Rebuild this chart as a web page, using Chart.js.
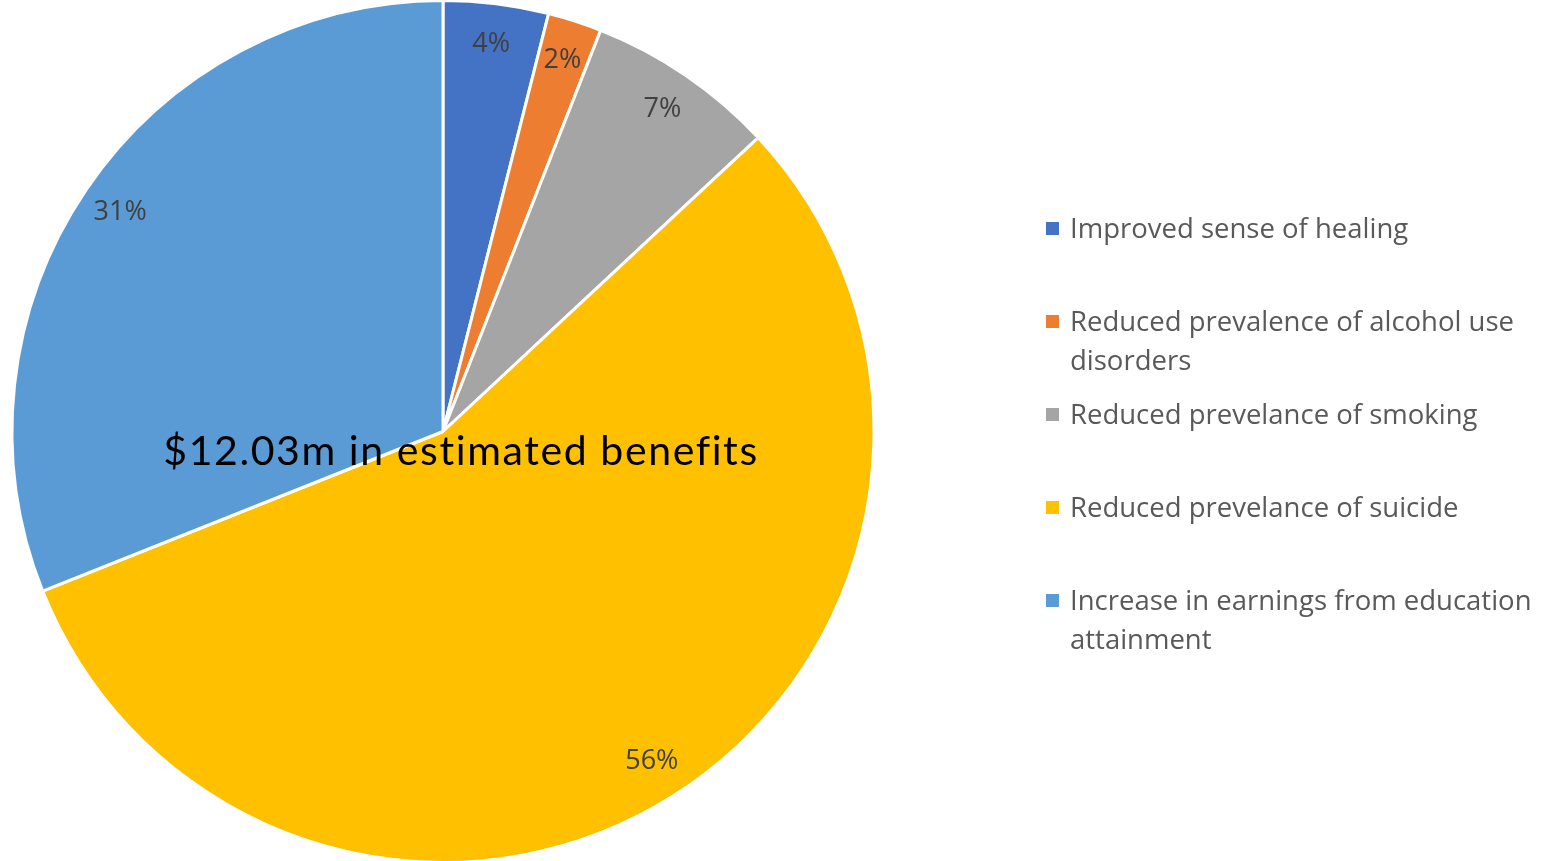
<!DOCTYPE html>
<html>
<head>
<meta charset="utf-8">
<script src="https://cdn.jsdelivr.net/npm/chart.js@4"></script>
<style>
html,body{margin:0;padding:0;background:#fff;}
#wrap{position:relative;width:1547px;height:861px;overflow:hidden;}
#wrap canvas{position:absolute;left:0;top:-2px;}
#legend{position:absolute;left:1046px;top:0;width:500px;font-family:"Open Sans",sans-serif;font-size:27.5px;color:#595959;}
.item{position:absolute;left:0;width:500px;}
.sw{position:absolute;left:0;width:13px;height:13px;}
.tx{position:absolute;left:24px;width:476px;line-height:39px;white-space:nowrap;}
</style>
</head>
<body>
<div id="wrap">
<canvas id="c" width="1547" height="870"></canvas>
<div id="legend"></div>
</div>
<script>
const categories = [
  "Improved sense of healing",
  "Reduced prevalence of alcohol use disorders",
  "Reduced prevelance of smoking",
  "Reduced prevelance of suicide",
  "Increase in earnings from education attainment"
];
// legend lines as wrapped in the reference
const legendLines = [
  ["Improved sense of healing"],
  ["Reduced prevalence of alcohol use", "disorders"],
  ["Reduced prevelance of smoking"],
  ["Reduced prevelance of suicide"],
  ["Increase in earnings from education", "attainment"]
];
const shares = [3.94, 2.02, 7.1, 55.9, 31.04];
const colors = ["#4472C4", "#ED7D31", "#A5A5A5", "#FFC000", "#5B9BD5"];
const centerTitle = "$12.03m in estimated benefits";

const legendTop = [228, 321, 414, 507, 600];
const legend = document.getElementById('legend');
legendLines.forEach((lines, i) => {
  const it = document.createElement('div');
  it.className = 'item';
  it.style.top = (legendTop[i] - 20) + 'px';
  const sw = document.createElement('div');
  sw.className = 'sw';
  sw.style.background = colors[i];
  sw.style.top = '14px';
  const tx = document.createElement('div');
  tx.className = 'tx';
  lines.forEach((l, j) => {
    if (j) tx.appendChild(document.createElement('br'));
    tx.appendChild(document.createTextNode(l));
  });
  it.appendChild(sw); it.appendChild(tx);
  legend.appendChild(it);
});

const labelPlugin = {
  id: 'pctLabels',
  afterDatasetsDraw(chart) {
    const ctx = chart.ctx;
    const meta = chart.getDatasetMeta(0);
    const data = chart.data.datasets[0].data;
    const total = data.reduce((a, b) => a + b, 0);
    ctx.save();
    ctx.font = '27px "Open Sans", sans-serif';
    ctx.fillStyle = '#404040';
    ctx.textAlign = 'center';
    ctx.textBaseline = 'middle';
    meta.data.forEach((arc, i) => {
      const p = arc.getProps(['x', 'y', 'startAngle', 'endAngle', 'outerRadius'], true);
      const mid = (p.startAngle + p.endAngle) / 2;
      const r = p.outerRadius * 0.905;
      ctx.fillText(Math.round(data[i] / total * 100) + '%', p.x + Math.cos(mid) * r, p.y + Math.sin(mid) * r);
    });
    // centre title
    ctx.font = '41px Lato, sans-serif';
    ctx.fillStyle = '#000000';
    ctx.textBaseline = 'alphabetic';
    try { ctx.letterSpacing = '1.6px'; } catch (e) {}
    ctx.fillText(centerTitle, 461, 467);
    ctx.restore();
  }
};

new Chart(document.getElementById('c'), {
  type: 'pie',
  data: {
    labels: categories,
    datasets: [{
      data: shares,
      backgroundColor: colors,
      borderColor: '#ffffff',
      borderWidth: 3
    }]
  },
  options: {
    responsive: false,
    animation: false,
    layout: { padding: { left: 10.5, right: 671.5, top: 1, bottom: 4 } },
    plugins: { legend: { display: false }, tooltip: { enabled: false } }
  },
  plugins: [labelPlugin]
});
</script>
</body>
</html>
